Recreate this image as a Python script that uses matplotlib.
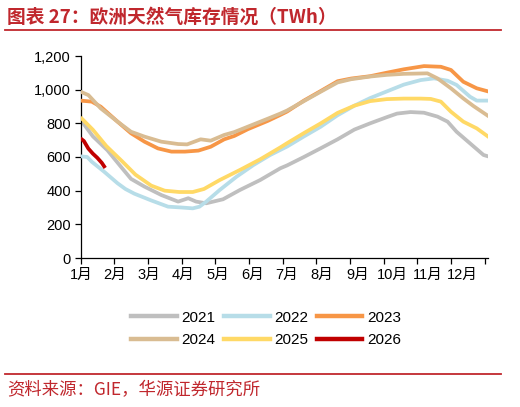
import matplotlib
matplotlib.use("Agg")
import matplotlib.pyplot as plt
from matplotlib.lines import Line2D

# ---- data (day of year, TWh) ----
d2021 = [0, 11, 24, 36, 45, 57, 72, 87, 96, 103, 112, 127, 142, 160, 178,
         184, 199, 214, 229, 244, 258, 273, 282, 294, 306, 318, 327, 335, 347, 359, 364]
v2021 = [822, 723, 640, 542, 470, 424, 374, 335, 355, 335, 325, 349, 404, 463, 533,
         550, 600, 652, 705, 763, 800, 837, 858, 867, 863, 840, 810, 750, 681, 612, 602]

d2022 = [0, 6, 10, 21, 33, 40, 48, 63, 78, 90, 100, 106, 112, 124, 139, 154, 169, 178,
         184, 199, 214, 229, 244, 258, 273, 288, 303, 315, 327, 335, 347, 353, 364]
v2022 = [604, 600, 572, 513, 444, 410, 382, 342, 305, 300, 295, 305, 335, 404, 483, 552, 612, 642,
         662, 722, 780, 848, 905, 950, 990, 1030, 1057, 1067, 1053, 1028, 958, 935, 935]

d2023 = [0, 10, 18, 33, 45, 57, 69, 81, 93, 105, 116, 128, 137, 149, 167, 178,
         184, 199, 214, 229, 241, 258, 273, 288, 306, 321, 330, 341, 353, 364]
v2023 = [935, 929, 899, 810, 741, 691, 651, 632, 632, 638, 661, 705, 725, 765, 815, 850,
         870, 935, 992, 1050, 1066, 1080, 1101, 1121, 1140, 1136, 1117, 1047, 1008, 988]

d2024 = [0, 7, 18, 33, 45, 57, 72, 87, 95, 107, 116, 128, 137, 149, 167, 178,
         184, 199, 214, 229, 241, 258, 273, 288, 309, 318, 330, 341, 350, 364]
v2024 = [988, 968, 889, 810, 750, 721, 691, 677, 675, 705, 697, 731, 748, 780, 828, 858,
         876, 932, 988, 1043, 1062, 1078, 1088, 1094, 1097, 1067, 1008, 948, 903, 840]

d2025 = [0, 11, 23, 37, 49, 63, 75, 88, 100, 110, 124, 142, 160, 178,
         184, 199, 214, 229, 244, 258, 273, 288, 303, 312, 321, 330, 341, 353, 364]
v2025 = [836, 762, 665, 575, 495, 430, 400, 392, 392, 410, 463, 523, 586, 657,
         682, 742, 800, 862, 905, 932, 944, 947, 947, 945, 929, 869, 810, 770, 717]

d2026 = [0, 3, 7, 11, 15, 19, 22]
v2026 = [711, 695, 650, 620, 595, 565, 535]

years = ["2021", "2022", "2023", "2024", "2025", "2026"]
colors = ["#BFBFBF", "#B7DDE8", "#F79646", "#D9BC92", "#FFD966", "#C00000"]
series_d = [d2021, d2022, d2023, d2024, d2025, d2026]
series_v = [v2021, v2022, v2023, v2024, v2025, v2026]

month_labels = ["1月", "2月", "3月", "4月", "5月", "6月", "7月", "8月", "9月", "10月", "11月", "12月"]
month_label_pos = [0.5, 30.5, 60.5, 91, 122, 153, 184, 215, 247, 278, 309, 340]
tick_days = list(range(0, 361, 30))
yticks = [0, 200, 400, 600, 800, 1000, 1200]

RED = "#C0272D"

plt.rcParams['font.family'] = ['Liberation Sans', 'Noto Sans CJK SC', 'DejaVu Sans']

fig = plt.figure(figsize=(5.2, 4.07), dpi=100)
W, H = 520, 407
ax = fig.add_axes([80.5 / W, 1 - 258 / H, (488 - 80.5) / W, (258 - 56) / H])

draw_order = [0, 1, 3, 2, 4, 5]
for i in draw_order:
    ax.plot(series_d[i], series_v[i], color=colors[i], lw=2.7, solid_capstyle='butt',
            solid_joinstyle='round', zorder=2 + i)

ax.set_xlim(0, 363)
ax.set_ylim(0, 1200)
for s in ["top", "right"]:
    ax.spines[s].set_visible(False)
for s in ["left", "bottom"]:
    ax.spines[s].set_color("#000000")
    ax.spines[s].set_linewidth(0.9)

ax.set_yticks(yticks)
ax.set_yticklabels([f"{v:,}" for v in yticks], fontsize=10.5)
ax.tick_params(axis='y', direction='out', length=4, width=0.9, pad=3)

ax.xaxis.remove_overlapping_locs = False
ax.set_xticks(tick_days)
ax.set_xticklabels([])
ax.tick_params(axis='x', which='major', direction='out', length=4, width=0.9)
ax.set_xticks(month_label_pos, minor=True)
ax.set_xticklabels(month_labels, minor=True, fontsize=10.5)
ax.tick_params(axis='x', which='minor', length=0, pad=7)

order = [0, 3, 1, 4, 2, 5]
handles = [Line2D([0], [0], color=colors[i], lw=3.2) for i in order]
labels = [years[i] for i in order]
fig.legend(handles, labels, loc='center', bbox_to_anchor=(266 / W, 1 - 329 / H), ncol=3,
           frameon=False, fontsize=11, handlelength=3.0, handletextpad=0.3,
           columnspacing=0.55, labelspacing=0.55)

# title and decorations
fig.text(7 / W, 1 - 17 / H, "图表 27：欧洲天然气库存情况（TWh）", color=RED, fontsize=13.5,
         fontweight='bold', va='center', ha='left', family=['Noto Sans CJK SC', 'DejaVu Sans'])
fig.add_artist(Line2D([5 / W, 501 / W], [1 - 30 / H, 1 - 30 / H], color=RED, lw=1.3))
fig.add_artist(Line2D([5 / W, 501 / W], [1 - 374 / H, 1 - 374 / H], color=RED, lw=1.3))
fig.text(7 / W, 1 - 390 / H, "资料来源：GIE，华源证券研究所", color=RED, fontsize=12.5,
         va='center', ha='left', family=['Noto Sans CJK SC', 'DejaVu Sans'])

fig.savefig("out.png", dpi=100)
